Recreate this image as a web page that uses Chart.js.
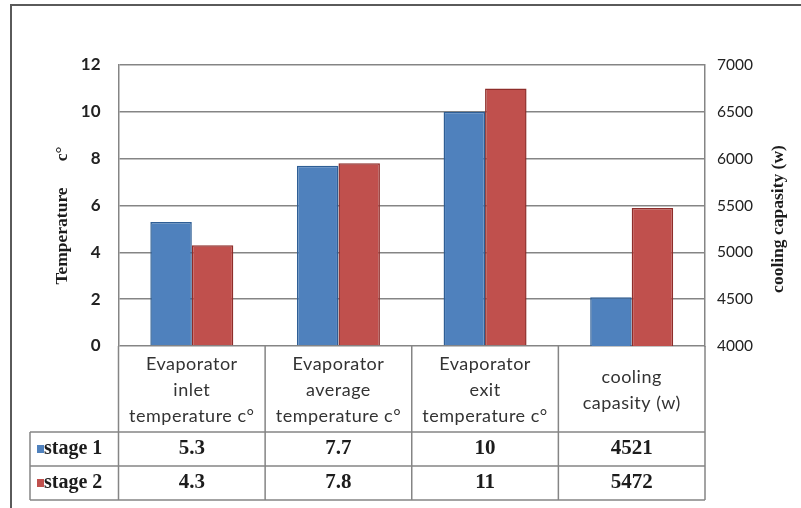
<!DOCTYPE html>
<html>
<head>
<meta charset="utf-8">
<script src="https://cdn.jsdelivr.net/npm/chart.js@4.4.1/dist/chart.umd.min.js"></script>
<style>
  html, body { margin: 0; padding: 0; background: #fff; }
  #wrap { width: 801px; height: 508px; position: relative; }
</style>
</head>
<body>
<div id="wrap"><canvas id="c" width="801" height="508"></canvas></div>
<script>
// ---- data ----
const categories = [
  ['Evaporator', 'inlet', 'temperature c°'],
  ['Evaporator', 'average', 'temperature c°'],
  ['Evaporator', 'exit', 'temperature c°'],
  ['cooling', 'capasity (w)']
];
const seriesNames = ['stage 1', 'stage 2'];
// evaporator temperatures (°C); the capacity category sits on the right axis
const stage1Temp = [5.3, 7.7, 10, null];
const stage2Temp = [4.3, 7.8, 11, null];
// cooling capacity (W)
const stage1Cooling = [null, null, null, 4521];
const stage2Cooling = [null, null, null, 5472];
const tempTicks = [0, 2, 4, 6, 8, 10, 12];
const capacityTicks = [4000, 4500, 5000, 5500, 6000, 6500, 7000];
const leftTitle = 'Temperature      c°';
const rightTitle = 'cooling capasity (w)';

// ---- styling ----
const BLUE = '#4F81BD', BLUE_EDGE = '#2E5E95';
const RED = '#C0504D', RED_EDGE = '#8E2D2A';
const LINE = '#858585';
const SANS = 'Lato, "Open Sans", sans-serif';
const SERIF = '"Liberation Serif", "DejaVu Serif", serif';

// table row boundaries (below the plot)
const ROW1_TOP = 432, ROW2_TOP = 466, TABLE_BOTTOM = 500, TABLE_LEFT = 30;

function tableValue(series, i) {
  const t = series === 0 ? stage1Temp : stage2Temp;
  const c = series === 0 ? stage1Cooling : stage2Cooling;
  const v = t[i] != null ? t[i] : c[i];
  return String(v);
}

const tablePlugin = {
  id: 'dataTable',
  afterDraw(chart) {
    const { ctx, chartArea: a, scales } = chart;
    const x = scales.x;
    const n = categories.length;
    const cw = (a.right - a.left) / n;
    ctx.save();

    // outer frame
    ctx.strokeStyle = '#5a5a5a';
    ctx.lineWidth = 2;
    ctx.beginPath();
    ctx.moveTo(11, 508); ctx.lineTo(11, 5); ctx.lineTo(801, 5);
    ctx.stroke();

    // table grid
    ctx.strokeStyle = LINE;
    ctx.lineWidth = 1.5;
    ctx.beginPath();
    for (let i = 0; i <= n; i++) {
      const xx = a.left + i * cw;
      ctx.moveTo(xx, a.bottom); ctx.lineTo(xx, TABLE_BOTTOM);
    }
    ctx.moveTo(TABLE_LEFT, ROW1_TOP); ctx.lineTo(TABLE_LEFT, TABLE_BOTTOM);
    [ROW1_TOP, ROW2_TOP, TABLE_BOTTOM].forEach(y => {
      ctx.moveTo(TABLE_LEFT, y); ctx.lineTo(a.right, y);
    });
    ctx.stroke();

    // category headers
    ctx.fillStyle = '#333';
    ctx.font = '18px ' + SANS;
    ctx.letterSpacing = '0.5px';
    ctx.textAlign = 'center';
    ctx.textBaseline = 'middle';
    const headMid = 390, lh = 26;
    categories.forEach((lines, i) => {
      const cx = x.getPixelForValue(i);
      const y0 = headMid - (lines.length - 1) * lh / 2;
      lines.forEach((t, k) => ctx.fillText(t, cx, y0 + k * lh));
    });
    ctx.letterSpacing = '0px';

    // series rows
    const rows = [[ROW1_TOP, ROW2_TOP], [ROW2_TOP, TABLE_BOTTOM]];
    const colors = [BLUE, RED];
    rows.forEach(([top, bot], s) => {
      const my = (top + bot) / 2;
      ctx.fillStyle = colors[s];
      ctx.fillRect(37, my - 4, 7, 8);
      ctx.fillStyle = '#1c1c1c';
      ctx.font = 'bold 20px ' + SERIF;
      ctx.textAlign = 'left';
      ctx.fillText(seriesNames[s], 44, my);
      ctx.textAlign = 'center';
      ctx.font = 'bold 21px ' + SERIF;
      for (let i = 0; i < n; i++) {
        ctx.fillText(tableValue(s, i), x.getPixelForValue(i), my);
      }
    });

    // axis titles, both reading bottom to top
    ctx.font = 'bold 17.5px ' + SERIF;
    ctx.fillStyle = '#1c1c1c';
    const midY = (a.top + a.bottom) / 2;
    [[62, midY + 10, leftTitle], [778, midY + 13.5, rightTitle]].forEach(([tx, ty, t]) => {
      ctx.save();
      ctx.translate(tx, ty);
      ctx.rotate(-Math.PI / 2);
      ctx.fillText(t, 0, 0);
      ctx.restore();
    });
    ctx.restore();
  }
};

new Chart(document.getElementById('c'), {
  type: 'bar',
  data: {
    labels: categories.map(c => c.join(' ')),
    datasets: [
      { label: seriesNames[0], data: stage1Temp, yAxisID: 'y', backgroundColor: BLUE, borderColor: BLUE_EDGE },
      { label: seriesNames[1], data: stage2Temp, yAxisID: 'y', backgroundColor: RED, borderColor: RED_EDGE },
      { label: seriesNames[0], data: stage1Cooling, yAxisID: 'y1', backgroundColor: BLUE, borderColor: BLUE_EDGE },
      { label: seriesNames[1], data: stage2Cooling, yAxisID: 'y1', backgroundColor: RED, borderColor: RED_EDGE }
    ]
  },
  options: {
    responsive: false,
    animation: false,
    devicePixelRatio: 1,
    layout: { padding: { left: 54, right: 14, top: 65, bottom: 162 } },
    datasets: { bar: { skipNull: true, categoryPercentage: 0.566, barPercentage: 1.0, borderWidth: 1.5, borderSkipped: 'bottom' } },
    plugins: { legend: { display: false }, tooltip: { enabled: false } },
    scales: {
      x: { display: false },
      y: {
        position: 'left',
        min: 0, max: 12,
        afterBuildTicks(s) { s.ticks = tempTicks.map(v => ({ value: v })); },
        afterFit(s) { s.width = 64.5; },
        grid: { color: LINE, lineWidth: 1.5, drawTicks: false },
        border: { display: true, color: LINE, width: 1.5 },
        ticks: { padding: 18, color: '#222', font: { family: SANS, size: 17, weight: 'bold' } }
      },
      y1: {
        position: 'right',
        min: 4000, max: 7000,
        afterBuildTicks(s) { s.ticks = capacityTicks.map(v => ({ value: v })); },
        afterFit(s) { s.width = 82; },
        grid: { drawOnChartArea: false, drawTicks: false },
        border: { display: true, color: LINE, width: 1.5 },
        ticks: { padding: 12, color: '#222', font: { family: SANS, size: 15.5 }, callback: v => String(v) }
      }
    }
  },
  plugins: [tablePlugin]
});
</script>
</body>
</html>
